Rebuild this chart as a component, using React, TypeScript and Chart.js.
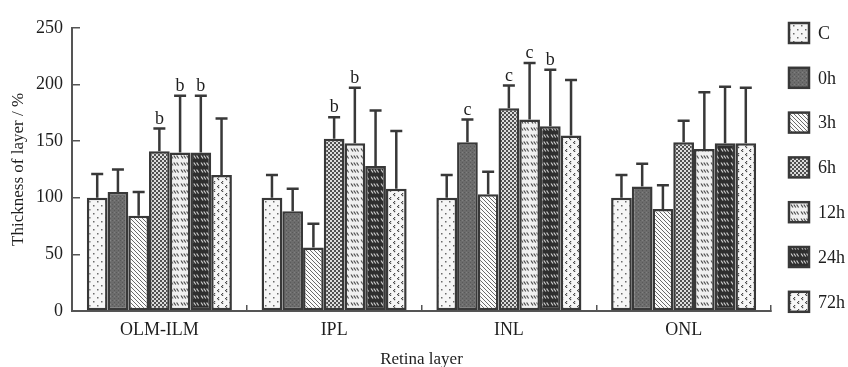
import { useEffect, useRef } from 'react';
import { Chart, registerables } from 'chart.js';

Chart.register(...registerables);

const categories = ['OLM-ILM', 'IPL', 'INL', 'ONL'];
const seriesNames = ['C', '0h', '3h', '6h', '12h', '24h', '72h'];

const cValues = [100, 100, 100, 100];
const h0Values = [105, 88, 149, 110];
const h3Values = [84, 56, 103, 90];
const h6Values = [141, 152, 179, 149];
const h12Values = [140, 148, 169, 143];
const h24Values = [140, 128, 163, 148];
const h72Values = [120, 108, 155, 148];

const cErr = [21, 20, 20, 20];
const h0Err = [20, 20, 20, 20];
const h3Err = [21, 21, 20, 21];
const h6Err = [20, 19, 20, 19];
const h12Err = [50, 49, 50, 50];
const h24Err = [50, 49, 50, 50];
const h72Err = [50, 51, 49, 49];

const cMarks = ['', '', '', ''];
const h0Marks = ['', '', 'c', ''];
const h3Marks = ['', '', '', ''];
const h6Marks = ['b', 'b', 'c', ''];
const h12Marks = ['b', 'b', 'c', ''];
const h24Marks = ['b', '', 'b', ''];
const h72Marks = ['', '', '', ''];

const allValues = [cValues, h0Values, h3Values, h6Values, h12Values, h24Values, h72Values];
const allErrs = [cErr, h0Err, h3Err, h6Err, h12Err, h24Err, h72Err];
const allMarks = [cMarks, h0Marks, h3Marks, h6Marks, h12Marks, h24Marks, h72Marks];

const yTicks = [0, 50, 100, 150, 200, 250];

const FONT = "'Liberation Serif', 'Times New Roman', serif";
const INK = '#383838';
const TEXT = '#1e1e1e';

function tile(w: number, h: number, bg: string, draw: (c: CanvasRenderingContext2D) => void) {
  const cv = document.createElement('canvas');
  cv.width = w;
  cv.height = h;
  const c = cv.getContext('2d')!;
  c.fillStyle = bg;
  c.fillRect(0, 0, w, h);
  draw(c);
  return c.createPattern(cv, 'repeat')!;
}

function makePatterns() {
  const dots = tile(8, 8, '#f6f6f6', (c) => {
    c.fillStyle = '#6a6a6a';
    c.fillRect(1, 1, 1.5, 1.5);
    c.fillRect(5, 5, 1.5, 1.5);
  });
  const dark = tile(4, 4, '#6c6c6c', (c) => {
    c.fillStyle = '#595959';
    c.fillRect(0, 0, 1, 1);
    c.fillRect(2, 2, 1, 1);
    c.fillStyle = '#808080';
    c.fillRect(2, 0, 1, 1);
  });
  const diag = tile(4, 4, '#fbfbfb', (c) => {
    c.fillStyle = '#6a6a6a';
    for (let i = 0; i < 4; i++) c.fillRect(i, i, 1, 1);
  });
  const checker = tile(4, 4, '#dcdcdc', (c) => {
    c.fillStyle = '#505050';
    c.fillRect(0, 0, 2, 2);
    c.fillRect(2, 2, 2, 2);
  });
  const dashes = (bg: string, fg: string) =>
    tile(10, 7, bg, (c) => {
      c.strokeStyle = fg;
      c.lineWidth = 1.2;
      for (let k = 0; k < 3; k++) {
        c.beginPath();
        c.moveTo(1 + 2.8 * k, 1.5);
        c.lineTo(3 + 2.8 * k, 4.5);
        c.stroke();
      }
    });
  const chevrons = tile(8, 8, '#f6f6f6', (c) => {
    c.fillStyle = '#4a4a4a';
    c.fillRect(2, 1, 1.2, 1.2);
    c.fillRect(1, 2, 1.2, 1.2);
    c.fillRect(2, 3, 1.2, 1.2);
    c.fillRect(6, 5, 1.2, 1.2);
    c.fillRect(5, 6, 1.2, 1.2);
    c.fillRect(6, 7, 1.2, 1.2);
  });
  return [dots, dark, diag, checker, dashes('#f0f0f0', '#4a4a4a'), dashes('#2e2e2e', '#d0d0d0'), chevrons];
}

const errorBarPlugin = {
  id: 'errorBars',
  afterDatasetsDraw(chart: any) {
    const ctx = chart.ctx as CanvasRenderingContext2D;
    const yScale = chart.scales.y;
    ctx.save();
    ctx.strokeStyle = INK;
    ctx.lineWidth = 2.5;
    ctx.fillStyle = TEXT;
    ctx.font = `18px ${FONT}`;
    ctx.textAlign = 'center';
    ctx.textBaseline = 'alphabetic';
    chart.data.datasets.forEach((ds: any, d: number) => {
      const meta = chart.getDatasetMeta(d);
      meta.data.forEach((bar: any, i: number) => {
        const v = allValues[d][i];
        const top = yScale.getPixelForValue(v + allErrs[d][i]);
        const x = bar.x;
        ctx.beginPath();
        ctx.moveTo(x, bar.y);
        ctx.lineTo(x, top);
        ctx.moveTo(x - 6, top);
        ctx.lineTo(x + 6, top);
        ctx.stroke();
        const m = allMarks[d][i];
        if (m) ctx.fillText(m, x, top - 5);
      });
    });
    ctx.restore();
  },
};

const legendPlugin = {
  id: 'sideLegend',
  afterDraw(chart: any) {
    const ctx = chart.ctx as CanvasRenderingContext2D;
    ctx.save();
    ctx.font = `18px ${FONT}`;
    ctx.textAlign = 'left';
    ctx.textBaseline = 'middle';
    chart.data.datasets.forEach((ds: any, d: number) => {
      const cy = 33 + d * 44.8;
      ctx.fillStyle = ds.backgroundColor;
      ctx.fillRect(789, cy - 10, 20, 20);
      ctx.strokeStyle = INK;
      ctx.lineWidth = 2.5;
      ctx.strokeRect(789, cy - 10, 20, 20);
      ctx.fillStyle = TEXT;
      ctx.fillText(ds.label, 818, cy + 1);
    });
    ctx.restore();
  },
};

export default function App() {
  const ref = useRef<HTMLCanvasElement>(null);
  useEffect(() => {
    const patterns = makePatterns();
    const chart = new Chart(ref.current!, {
      type: 'bar',
      data: {
        labels: categories,
        datasets: seriesNames.map((name, d) => ({
          label: name,
          data: allValues[d],
          backgroundColor: patterns[d] as any,
          borderColor: INK,
          borderWidth: 2.5,
          borderSkipped: false,
          categoryPercentage: 0.83,
          barPercentage: 1,
        })),
      },
      options: {
        responsive: false,
        animation: false,
        devicePixelRatio: 1,
        layout: { padding: { top: 24, right: 77, left: 0, bottom: 0 } },
        plugins: { legend: { display: false }, tooltip: { enabled: false } },
        scales: {
          x: {
            afterFit: (s: any) => {
              s.height = 56;
            },
            grid: { drawOnChartArea: false, drawTicks: true, tickLength: -6, color: '#555', lineWidth: 1.5 },
            border: { display: true, color: '#555', width: 2 },
            ticks: { color: TEXT, font: { family: FONT, size: 18 }, padding: 14 },
            title: { display: true, text: 'Retina layer', color: TEXT, font: { family: FONT, size: 17 }, padding: { top: 0, bottom: -3 } },
          },
          y: {
            min: 0,
            max: 250,
            afterFit: (s: any) => {
              s.width = 72;
            },
            afterBuildTicks: (s: any) => {
              s.ticks = yTicks.map((v) => ({ value: v }));
            },
            grid: { drawOnChartArea: false, drawTicks: true, tickLength: -8, color: '#555', lineWidth: 1.5 },
            border: { display: true, color: '#555', width: 2 },
            ticks: { color: TEXT, font: { family: FONT, size: 18 }, padding: 17 },
            title: { display: true, text: 'Thickness of layer / %', color: TEXT, font: { family: FONT, size: 17 }, padding: { top: 8, bottom: 0 } },
          },
        },
      },
      plugins: [errorBarPlugin, legendPlugin],
    });
    return () => chart.destroy();
  }, []);
  return (
    <div style={{ position: 'fixed', left: 0, top: 0, width: 848, height: 367, background: '#fff' }}>
      <canvas ref={ref} width={848} height={367} style={{ display: 'block' }} />
    </div>
  );
}
